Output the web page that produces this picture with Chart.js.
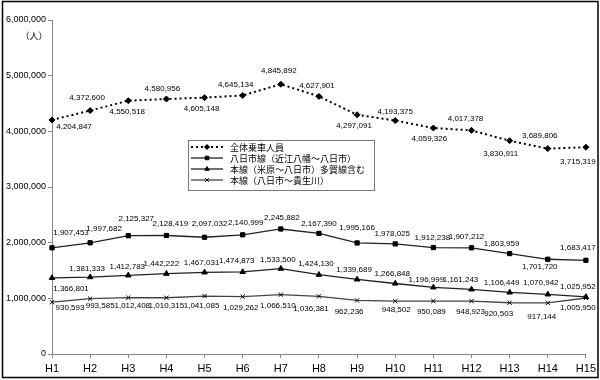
<!DOCTYPE html>
<html>
<head>
<meta charset="utf-8">
<script src="https://cdn.jsdelivr.net/npm/chart.js@4.4.0/dist/chart.umd.min.js"></script>
<style>
html,body{margin:0;padding:0;background:#fff;}
#wrap{width:600px;height:380px;position:relative;}
</style>
</head>
<body>
<div id="wrap"><canvas id="c" width="600" height="380"></canvas></div>
<script>
// ---- data ----
const categories = ['H1','H2','H3','H4','H5','H6','H7','H8','H9','H10','H11','H12','H13','H14','H15'];
const seriesNames = ['全体乗車人員','八日市線（近江八幡～八日市）','本線（米原～八日市）多賀線含む','本線（八日市～貴生川）'];
const totalRiders = [4204847,4372600,4550518,4580956,4605148,4645134,4845892,4627901,4297091,4193375,4059326,4017378,3830911,3689806,3715319];
const yokaichiLine = [1907453,1997682,2125327,2128419,2097032,2140999,2245882,2167390,1995166,1978025,1912238,1907212,1803959,1701720,1683417];
const mainMaibara = [1366801,1381333,1412783,1442222,1467031,1474873,1533500,1424130,1339689,1266848,1196999,1161243,1106449,1070942,1025952];
const mainKibukawa = [930593,993585,1012408,1010315,1041085,1029262,1066510,1036381,962236,948502,950089,948923,920503,917144,1005950];
const yMin = 0, yMax = 6000000, yStep = 1000000;
const unitLabel = '（人）';

// ---- label placement (pixel offsets from each point) ----
const labelOffsets = [
  [[22,7],[-3,-13],[-1,11],[-4,-10],[-3,11],[-7,-11],[-2,-13],[-2,-11],[-3,11],[0,-9],[-4,11],[-6,-12],[-9,13],[-8,-13],[-8,15]],
  [[19,-15],[14,-14],[8,-17],[4,-12],[5,-13],[3,-12],[1,-11],[0,-10],[0,-15],[-3,-10],[-1,-10],[-5,-11],[-8,-10],[-8,8],[-8,-12]],
  [[19,11],[-3,-8],[-1,-9],[-5,-10],[-3,-10],[-6,-11],[-3,-9],[-3,-11],[-3,-10],[-3,-10],[-7,-8],[-11,-10],[-8,-10],[-7,-12],[-8,-10]],
  [[18,6],[10,7],[4,8],[0,8],[-3,10],[-2,11],[-3,11],[-8,12],[-8,11],[1,9],[-2,11],[-1,11],[-11,11],[-6,14],[-8,10]]
];

const fmt = v => v.toLocaleString('en-US');
const FONT = '"Liberation Sans", Arial, sans-serif';
const JFONT = '"Noto Sans CJK JP", sans-serif';

const styles = [
  {color:'#000', dash:[2,3], width:2, point:'rectRot', r:3},
  {color:'#222', dash:[], width:1.3, point:'rect', r:3},
  {color:'#222', dash:[], width:1.3, point:'triangle', r:3.2},
  {color:'#444', dash:[], width:1.3, point:'crossRot', r:3}
];
const values = [totalRiders, yokaichiLine, mainMaibara, mainKibukawa];

const datasets = values.map((v,i)=>({
  label: seriesNames[i],
  data: v,
  borderColor: styles[i].color,
  backgroundColor: styles[i].color,
  borderDash: styles[i].dash,
  borderWidth: styles[i].width,
  pointStyle: styles[i].point,
  pointRadius: styles[i].r,
  pointBorderWidth: 1,
  pointBackgroundColor: '#000',
  pointBorderColor: '#000',
  tension: 0,
  fill: false
}));

const extras = {
  id: 'extras',
  afterDatasetsDraw(chart) {
    const ctx = chart.ctx;
    ctx.save();
    // data labels
    ctx.font = '8px ' + FONT;
    ctx.fillStyle = '#000';
    ctx.textAlign = 'center';
    ctx.textBaseline = 'middle';
    chart.data.datasets.forEach((ds, di) => {
      const meta = chart.getDatasetMeta(di);
      meta.data.forEach((pt, i) => {
        const o = labelOffsets[di][i];
        ctx.fillText(fmt(ds.data[i]), pt.x + o[0], pt.y + o[1]);
      });
    });
    // unit label
    ctx.font = '9px ' + JFONT;
    ctx.fillText(unitLabel, 34, 36);
    // legend
    const lx = 188, ly = 140, lw = 186, lh = 50;
    ctx.fillStyle = '#fff';
    ctx.fillRect(lx, ly, lw, lh);
    ctx.strokeStyle = '#777';
    ctx.lineWidth = 1;
    ctx.setLineDash([]);
    ctx.strokeRect(lx + 0.5, ly + 0.5, lw, lh);
    chart.data.datasets.forEach((ds, di) => {
      const y = 147 + di * 11;
      ctx.save();
      ctx.strokeStyle = ds.borderColor;
      ctx.lineWidth = ds.borderWidth;
      ctx.setLineDash(ds.borderDash);
      ctx.beginPath();
      ctx.moveTo(191, y);
      ctx.lineTo(223, y);
      ctx.stroke();
      ctx.setLineDash([]);
      ctx.fillStyle = '#000';
      ctx.strokeStyle = '#000';
      ctx.lineWidth = 1;
      Chart.helpers.drawPoint(ctx, {pointStyle: ds.pointStyle, radius: 2.5, borderWidth: 1}, 207, y);
      ctx.restore();
      ctx.fillStyle = '#000';
      ctx.textAlign = 'left';
      ctx.textBaseline = 'middle';
      ctx.font = '9px ' + JFONT;
      ctx.fillText(ds.label, 230, y + 0.5);
    });
    // outer frame
    ctx.strokeStyle = '#000';
    ctx.lineWidth = 1.5;
    ctx.strokeRect(2.5, 1.5, 595.5, 376);
    ctx.restore();
  }
};

new Chart(document.getElementById('c'), {
  type: 'line',
  data: { labels: categories, datasets },
  options: {
    responsive: false,
    animation: false,
    devicePixelRatio: 1,
    layout: { padding: { left: 0, right: 13, top: 20, bottom: 0 } },
    plugins: { legend: { display: false }, tooltip: { enabled: false } },
    scales: {
      x: {
        type: 'category',
        offset: false,
        grid: { drawOnChartArea: false, tickLength: 4, color: '#888' },
        border: { color: '#888', width: 1 },
        ticks: { color: '#000', font: { size: 11, family: FONT }, padding: 4, maxRotation: 0, autoSkip: false },
        afterFit(s) { s.height = 26; }
      },
      y: {
        min: yMin, max: yMax,
        grid: { drawOnChartArea: false, tickLength: 4, color: '#888' },
        border: { color: '#888', width: 1 },
        ticks: { stepSize: yStep, color: '#000', font: { size: 9, family: FONT }, padding: 2, callback: v => fmt(v) },
        afterFit(s) { s.width = 52; }
      }
    }
  },
  plugins: [extras]
});
</script>
</body>
</html>
